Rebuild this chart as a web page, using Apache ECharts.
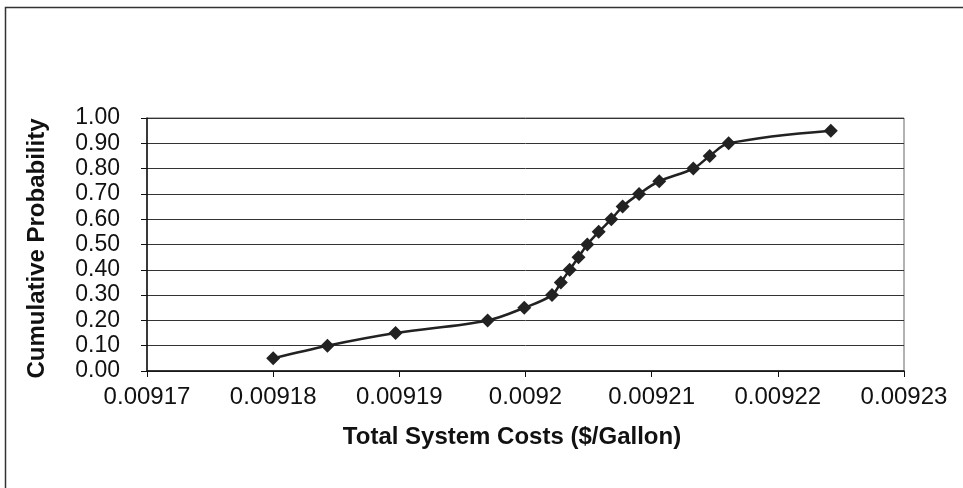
<!DOCTYPE html>
<html>
<head>
<meta charset="utf-8">
<script src="https://cdn.jsdelivr.net/npm/echarts@6/dist/echarts.min.js"></script>
<style>
  html, body { margin: 0; padding: 0; background: #fff; }
  #chart { width: 963px; height: 488px; }
</style>
</head>
<body>
<div id="chart"></div>
<script>
// Total system cost ($/gallon) at each cumulative probability level
const costs = [
  0.00918, 0.0091843, 0.0091897, 0.009197, 0.0091999,
  0.0092021, 0.0092028, 0.0092035, 0.0092042, 0.0092049,
  0.0092058, 0.0092068, 0.0092077, 0.009209, 0.0092106,
  0.0092133, 0.0092146, 0.0092161, 0.0092242
];
const probabilities = [
  0.05, 0.10, 0.15, 0.20, 0.25, 0.30, 0.35, 0.40, 0.45, 0.50,
  0.55, 0.60, 0.65, 0.70, 0.75, 0.80, 0.85, 0.90, 0.95
];
const xTitle = 'Total System Costs ($/Gallon)';
const yTitle = 'Cumulative Probability';

const points = costs.map((c, i) => [c, probabilities[i]]);
const font = '"Liberation Sans", Arial, sans-serif';

const chart = echarts.init(document.getElementById('chart'), null, { renderer: 'canvas' });
chart.setOption({
  animation: false,
  backgroundColor: '#ffffff',
  grid: {
    left: 147, right: 59, top: 118, bottom: 117,
    show: true, borderColor: '#666', borderWidth: 1, backgroundColor: 'transparent'
  },
  xAxis: {
    type: 'value',
    min: 0.00917, max: 0.00923, interval: 0.00001,
    axisLine: { show: true, lineStyle: { color: '#111', width: 1.5 } },
    axisTick: { show: true, inside: false, length: 6, lineStyle: { color: '#111' } },
    splitLine: { show: false },
    axisLabel: {
      margin: 14,
      color: '#111', fontFamily: font, fontSize: 24,
      formatter: v => String(+v.toFixed(5))
    }
  },
  yAxis: {
    type: 'value',
    min: 0, max: 1, interval: 0.1,
    axisLine: { show: true, lineStyle: { color: '#111', width: 1.5 } },
    axisTick: { show: true, inside: false, length: 6, lineStyle: { color: '#111' } },
    splitLine: { show: true, lineStyle: { color: '#333', width: 1 } },
    axisLabel: {
      margin: 27,
      color: '#111', fontFamily: font, fontSize: 23,
      formatter: v => v.toFixed(2)
    }
  },
  series: [{
    type: 'line',
    data: points,
    smooth: 0.35,
    symbol: 'diamond',
    symbolSize: 14,
    itemStyle: { color: '#222' },
    lineStyle: { color: '#222', width: 2.5 }
  }],
  graphic: [
    {
      type: 'rect',
      shape: { x: 5.5, y: 7.5, width: 1000, height: 1000 },
      style: { fill: 'none', stroke: '#333', lineWidth: 1.5 },
      silent: true
    },
    {
      type: 'text',
      x: 512, y: 437,
      style: {
        text: xTitle, fill: '#111',
        font: 'bold 24px ' + font,
        textAlign: 'center', textVerticalAlign: 'middle'
      }
    },
    {
      type: 'text',
      x: 37, y: 248.5,
      rotation: Math.PI / 2,
      style: {
        text: yTitle, fill: '#111',
        font: 'bold 24px ' + font,
        textAlign: 'center', textVerticalAlign: 'middle'
      }
    }
  ]
});
</script>
</body>
</html>
